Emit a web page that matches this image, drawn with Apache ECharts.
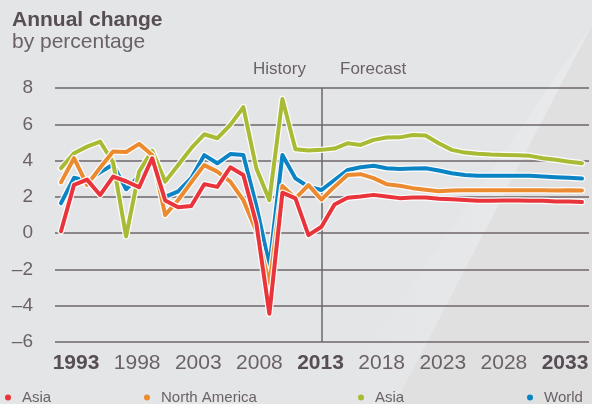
<!DOCTYPE html>
<html>
<head>
<meta charset="utf-8">
<script src="https://cdn.jsdelivr.net/npm/echarts@6/dist/echarts.min.js"></script>
<style>
  html, body { margin: 0; padding: 0; background: #e4e5e7; }
  #chart { width: 592px; height: 404px; }
</style>
</head>
<body>
<div id="chart"></div>
<script>
// years on the x axis
const years = [1993, 1994, 1995, 1996, 1997, 1998, 1999, 2000, 2001, 2002,
  2003, 2004, 2005, 2006, 2007, 2008, 2009, 2010, 2011, 2012,
  2013, 2014, 2015, 2016, 2017, 2018, 2019, 2020, 2021, 2022,
  2023, 2024, 2025, 2026, 2027, 2028, 2029, 2030, 2031, 2032, 2033];

// annual change, %
const asiaRed = [0.1, 2.66, 2.95, 2.1, 3.12, 2.86, 2.53, 4.13, 1.8, 1.43,
  1.5, 2.7, 2.55, 3.63, 3.2, 0.53, -4.44, 2.23, 1.92, -0.11,
  0.35, 1.58, 1.95, 2.02, 2.11, 2.02, 1.93, 1.96, 1.96, 1.89,
  1.87, 1.83, 1.78, 1.78, 1.8, 1.8, 1.78, 1.78, 1.74, 1.74, 1.71];
const northAmerica = [2.8, 4.13, 2.66, 3.6, 4.5, 4.47, 4.92, 4.31, 1.0, 1.83,
  2.8, 3.75, 3.39, 2.84, 1.82, 0.1, -2.78, 2.6, 1.92, 2.65,
  1.85, 2.56, 3.2, 3.25, 3.03, 2.7, 2.61, 2.48, 2.39, 2.31,
  2.35, 2.37, 2.37, 2.36, 2.36, 2.36, 2.36, 2.36, 2.35, 2.36, 2.35];
const asiaGreen = [3.58, 4.4, 4.77, 5.05, 3.9, -0.18, 3.4, 4.55, 2.84, 3.76,
  4.68, 5.45, 5.23, 5.97, 6.94, 3.57, 1.82, 7.39, 4.62, 4.55,
  4.59, 4.66, 4.95, 4.86, 5.14, 5.27, 5.28, 5.41, 5.38, 4.95,
  4.59, 4.44, 4.37, 4.33, 4.31, 4.29, 4.26, 4.13, 4.04, 3.94, 3.85];
const world = [1.65, 3.05, 2.88, 3.35, 3.78, 2.42, 3.15, 4.02, 2.0, 2.3,
  3.03, 4.3, 3.85, 4.36, 4.31, 1.5, -1.77, 4.31, 3.02, 2.56,
  2.38, 2.93, 3.48, 3.63, 3.71, 3.58, 3.54, 3.56, 3.58, 3.45,
  3.3, 3.21, 3.17, 3.17, 3.17, 3.17, 3.16, 3.12, 3.08, 3.05, 3.01];

// tick labels
const xTicks = [1993, 1998, 2003, 2008, 2013, 2018, 2023, 2028, 2033];
const boldYears = [1993, 2013, 2033];
const yTicks = [-6, -4, -2, 0, 2, 4, 6, 8];
const splitYear = 2013;

const FONT = '"Liberation Sans", Arial, Helvetica, sans-serif';
const GREY = '#6b6268';
const DARK = '#574d54';
const GRID_LINE = '#6e666b';

const chart = echarts.init(document.getElementById('chart'));

function pairs(vals) {
  return years.map((y, i) => [y, vals[i]]);
}

// each line gets a white halo drawn under it
function lineWithHalo(name, color, vals) {
  return [
    {
      name: name + '-halo',
      type: 'line',
      data: pairs(vals),
      showSymbol: false,
      silent: true,
      lineStyle: { color: '#ffffff', width: 6.5, cap: 'round', join: 'round', opacity: 0.9 },
      itemStyle: { color: '#ffffff' }
    },
    {
      name: name,
      type: 'line',
      data: pairs(vals),
      showSymbol: false,
      lineStyle: { color: color, width: 4, cap: 'round', join: 'round' },
      itemStyle: { color: color }
    }
  ];
}

const series = [
  {
    name: 'divider',
    type: 'line',
    data: [],
    silent: true,
    markLine: {
      z: 1,
      silent: true,
      symbol: ['none', 'none'],
      label: { show: false },
      lineStyle: { color: GRID_LINE, width: 1.5, type: 'solid' },
      data: [{ xAxis: splitYear }]
    }
  },
  ...lineWithHalo('World', '#0b84c6', world),
  ...lineWithHalo('Asia ', '#a9ba35', asiaGreen),
  ...lineWithHalo('North America', '#ec8a2f', northAmerica),
  ...lineWithHalo('Asia', '#e8343a', asiaRed)
];

function legendAt(name, dotX) {
  return {
    data: [name],
    left: dotX - 9,
    top: 390,
    icon: 'circle',
    itemWidth: 18,
    itemHeight: 6,
    padding: 0,
    selectedMode: false,
    itemStyle: { borderWidth: 0 },
    formatter: n => n.trim(),
    textStyle: { fontFamily: FONT, fontSize: 15, color: GREY }
  };
}

const option = {
  animation: false,
  backgroundColor: '#e4e5e7',
  title: {
    text: 'Annual change',
    subtext: 'by percentage',
    left: 12,
    top: 10,
    padding: 0,
    itemGap: 1,
    textStyle: { fontFamily: FONT, fontSize: 21, fontWeight: 'bold', color: DARK },
    subtextStyle: { fontFamily: FONT, fontSize: 21, color: GREY }
  },
  legend: [
    legendAt('Asia', 14),
    legendAt('North America', 153),
    legendAt('Asia ', 367),
    legendAt('World', 536)
  ],
  graphic: [
    {
      type: 'polygon', z: -10, silent: true,
      shape: { points: [[592, 25], [592, 404], [395, 404]] },
      style: { fill: '#e0e0e1' }
    },
    {
      type: 'polygon', z: -10, silent: true,
      shape: { points: [[592, 25], [395, 404], [330, 404]] },
      style: {
        fill: new echarts.graphic.LinearGradient(0, 0, 1, 0, [
          { offset: 0, color: 'rgba(255,255,255,0)' },
          { offset: 1, color: 'rgba(255,255,255,0.18)' }
        ])
      }
    },
    {
      type: 'text', x: 253, y: 69, silent: true,
      style: { text: 'History', font: '17px ' + FONT, fill: GREY, verticalAlign: 'middle' }
    },
    {
      type: 'text', x: 340, y: 69, silent: true,
      style: { text: 'Forecast', font: '17px ' + FONT, fill: GREY, verticalAlign: 'middle' }
    }
  ],
  grid: [
    { left: 55, right: 3, top: 88, bottom: 62 },
    { left: 76, right: 27, top: 88, bottom: 62 }
  ],
  xAxis: [
    {
      type: 'value',
      gridIndex: 0,
      min: 1992.54,
      max: 2033.54,
      axisLine: { show: false },
      axisTick: { show: false },
      axisLabel: { show: false },
      splitLine: { show: false }
    },
    {
      type: 'value',
      gridIndex: 1,
      min: xTicks[0],
      max: xTicks[xTicks.length - 1],
      interval: 5,
      axisLine: { show: false },
      axisTick: { show: false },
      splitLine: { show: false },
      axisLabel: {
        margin: 11,
        fontFamily: FONT,
        fontSize: 21,
        color: GREY,
        formatter: v => boldYears.includes(v) ? '{b|' + v + '}' : String(v),
        rich: { b: { fontFamily: FONT, fontSize: 21, fontWeight: 'bold', color: DARK } }
      }
    }
  ],
  yAxis: [
    {
      type: 'value',
      gridIndex: 0,
      min: yTicks[0],
      max: yTicks[yTicks.length - 1],
      interval: 2,
      axisLine: { show: false },
      axisTick: { show: false },
      axisLabel: {
        margin: 22,
        fontFamily: FONT,
        fontSize: 19,
        color: GREY,
        formatter: v => v < 0 ? '\u2013' + Math.abs(v) : String(v)
      },
      splitLine: { lineStyle: { color: GRID_LINE, width: 1.5 } }
    },
    {
      type: 'value',
      gridIndex: 1,
      min: yTicks[0],
      max: yTicks[yTicks.length - 1],
      show: false
    }
  ],
  series: series
};

chart.setOption(option);
</script>
</body>
</html>
